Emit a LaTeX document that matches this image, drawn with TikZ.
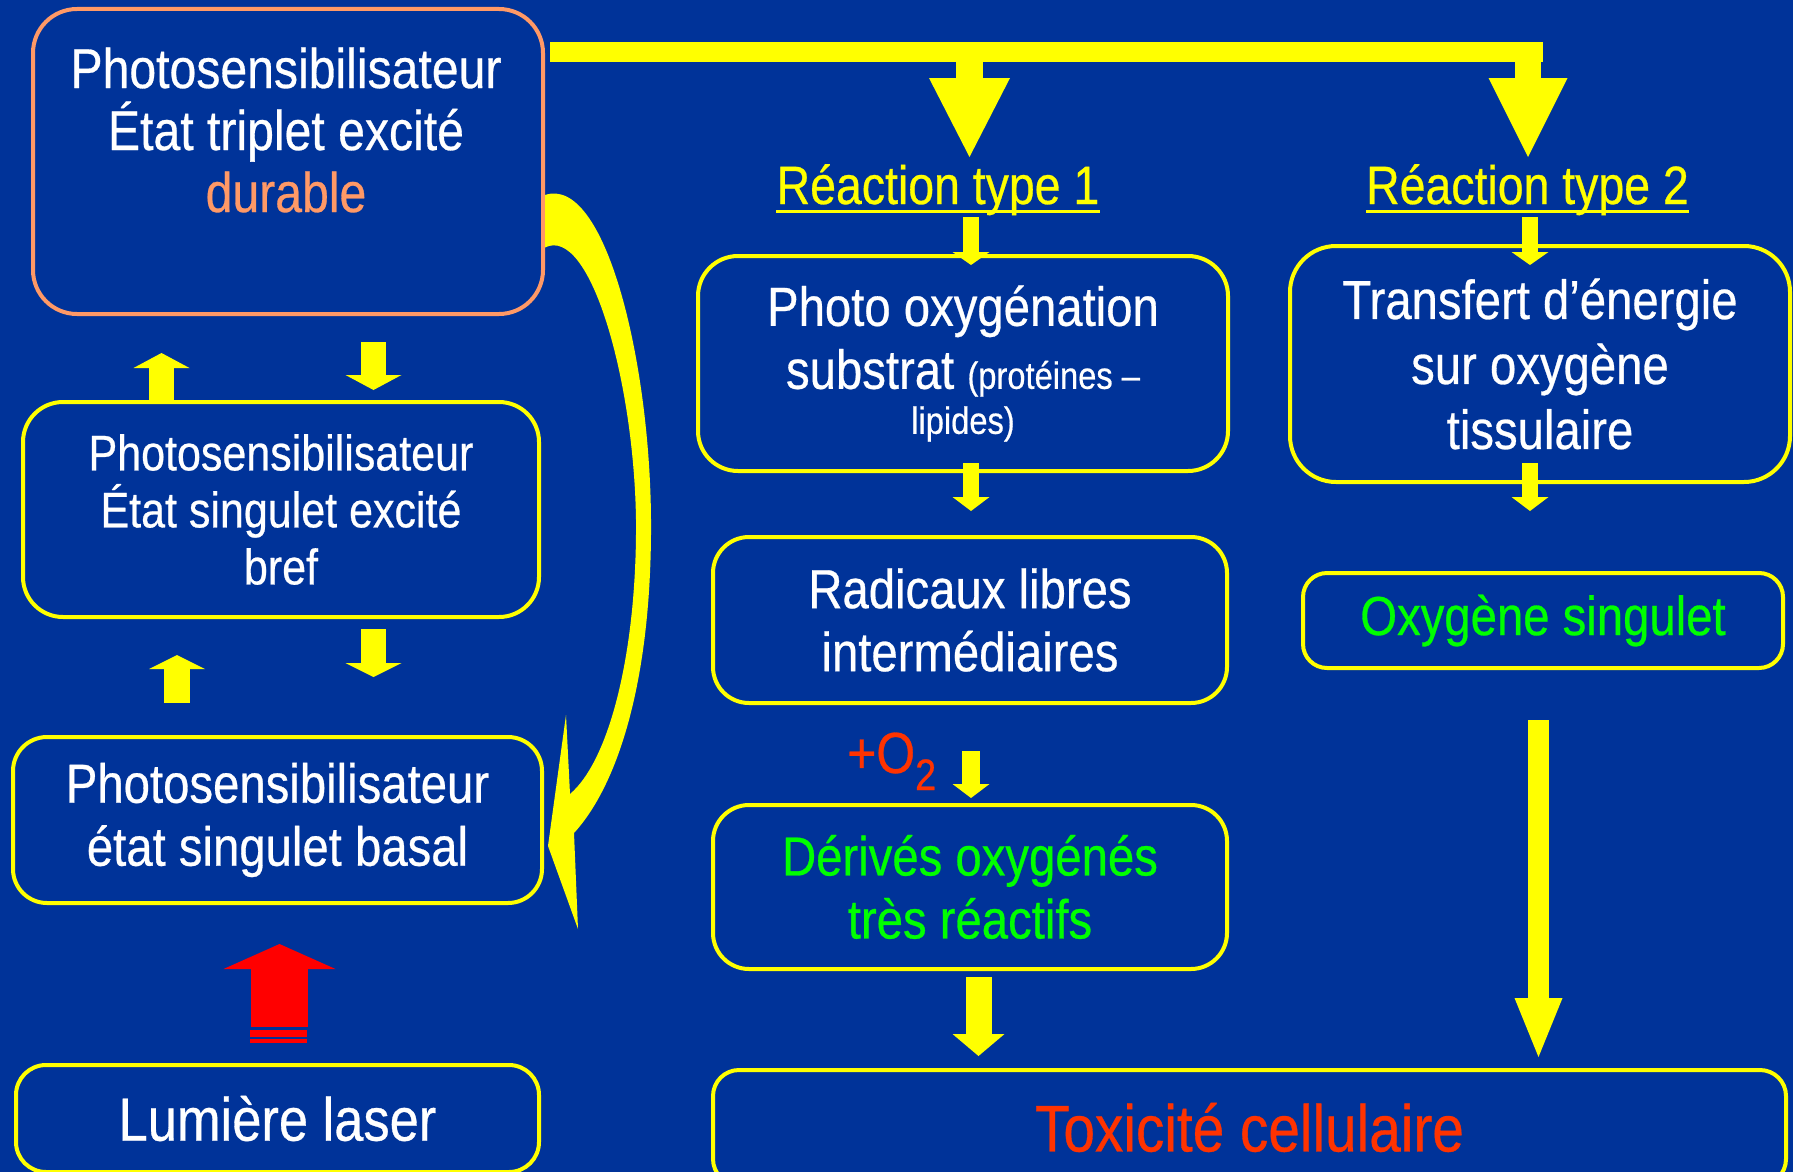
\documentclass[tikz,border=0pt]{standalone}
\usepackage{fontspec}
\setmainfont[FakeStretch=0.86,FakeBold=0.5]{Liberation Sans}
\usetikzlibrary{arrows.meta}
\definecolor{bgblue}{HTML}{003399}
\definecolor{ylw}{HTML}{FFFF00}
\definecolor{salmon}{HTML}{FF9966}
\definecolor{lgreen}{HTML}{00FF00}
\definecolor{toxred}{HTML}{FF3300}
\definecolor{laserred}{HTML}{FF0000}
\tikzset{
  box/.style={draw=ylw, line width=4pt, rounded corners=#1, inner sep=0pt, anchor=north west,
    align=center, text=white, font=\fontsize{55}{63}\selectfont},
  box/.default=36pt,
  title/.style={anchor=base, inner sep=0pt, text=ylw, font=\fontsize{54}{60}\selectfont},
  fat/.style n args={3}{draw=ylw, line width=#1pt, -{Triangle[width=#2pt, length=#3pt, line width=0pt]}},
}
\begin{document}
\begin{tikzpicture}[x=1pt, y=-1pt]
    \useasboundingbox (0,0) rectangle (1793,1172);
    \clip (0,0) rectangle (1793,1172);
    \fill[bgblue] (0,0) rectangle (1793,1172);

    \node[box=44pt, draw=salmon, minimum width=510pt, minimum height=305pt] (ps_trip) at (31,7) {};
    \node[anchor=base, align=center, inner sep=0pt, text=white, font=\fontsize{56}{62}\selectfont]
        (ps_trip_txt) at (286,212) {Photosensibilisateur\\État triplet excité\\\textcolor{salmon}{durable}};
    \node[box=40pt, minimum width=516pt, minimum height=215pt, font=\fontsize{50}{57}\selectfont]
        (ps_sing) at (21,400) {Photosensibilisateur\\État singulet excité\\bref};
    \node[box=34pt, minimum width=529pt, minimum height=166pt] (ps_base) at (11,735) {Photosensibilisateur\\état singulet basal};
    \node[box=30pt, minimum width=523pt, minimum height=107pt, font=\fontsize{61}{70}\selectfont] (laser) at (14,1063) {Lumière laser};

    \node[title] (r_1) at (938,204) {Réaction type 1};
    \node[title] (r_2) at (1527.5,204) {Réaction type 2};
    \draw[ylw, line width=3.5pt] ([yshift=-7.5pt]r_1.base west) -- ([yshift=-7.5pt]r_1.base east);
    \draw[ylw, line width=3.5pt] ([yshift=-7.5pt]r_2.base west) -- ([yshift=-7.5pt]r_2.base east);

    \node[box=40pt, minimum width=530pt, minimum height=215pt] (photo) at (696,254)
        {Photo oxygénation\\substrat {\fontsize{38}{45}\selectfont(protéines –}\\[-18pt]{\fontsize{38}{45}\selectfont lipides)}};
    \node[box, minimum width=514pt, minimum height=166pt] (rad) at (711,535) {Radicaux libres\\intermédiaires};
    \node[anchor=base west, inner sep=0pt, text=toxred, font=\fontsize{58}{60}\selectfont]
        (o_2) at (847,773) {+O\raisebox{-17pt}{\fontsize{44}{44}\selectfont 2}};
    \node[box, minimum width=514pt, minimum height=164pt, text=lgreen] (deriv) at (711,803) {Dérivés oxygénés\\très réactifs};
    \node[box=26pt, minimum width=1073pt, minimum height=115pt, text=toxred, font=\fontsize{66}{70}\selectfont]
        (tox) at (711,1068) {Toxicité cellulaire};

    \node[box=46pt, minimum width=500pt, minimum height=236pt, font=\fontsize{55}{65}\selectfont]
        (transf) at (1288,244) {Transfert d’énergie\\sur oxygène\\tissulaire};
    \node[box=24pt, minimum width=480pt, minimum height=95pt, text=lgreen] (o_sing) at (1301,571) {Oxygène singulet};

    \draw[ylw, line width=20pt] ([xshift=5pt,yshift=-45pt]ps_trip.north east) -- (1543,52);
    \draw[fat={27}{81}{79}] ([xshift=31.5pt,yshift=152pt]r_1.base) -- ++(0,105);
    \draw[fat={26}{79}{79}] ([xshift=0.5pt,yshift=152pt]r_2.base) -- ++(0,105);

    \draw[fat={25}{56}{15}] ([xshift=-119.5pt]ps_sing.north) -- ++(0,-47);
    \draw[fat={25}{56}{15}] ([xshift=85.5pt,yshift=-26pt]ps_trip.south) -- ++(0,48);
    \draw[fat={25}{56}{14}] ([xshift=92.5pt,yshift=-10pt]ps_sing.south) -- ++(0,48);
    \draw[fat={26}{56}{14}] ([xshift=-100.5pt,yshift=32pt]ps_base.north) -- ++(0,-48);

    \draw[fat={57}{112}{25}, draw=laserred] ([xshift=2pt,yshift=36pt]laser.north) -- ++(0,-83);
    \fill[laserred] ([xshift=-27.5pt,yshift=33pt]laser.north) rectangle ++(57,7);
    \fill[laserred] ([xshift=-27.5pt,yshift=24pt]laser.north) rectangle ++(57,4);

    \fill[ylw] ([yshift=-33.5pt]ps_trip.east) .. controls (605,175) and (650,360) .. (651,520)
        .. controls (652,680) and (618,785) .. (574,833) -- (578,929) -- ([xshift=4pt,yshift=-26pt]ps_base.east)
        -- (566,715) -- (570,794) .. controls (610,760) and (637,650) .. (636,520)
        .. controls (634,380) and (590,225) .. ([yshift=-86pt]ps_trip.east) -- cycle;

    \draw[fat={16}{37}{13}] ([xshift=8pt,yshift=37pt]photo.north) -- ++(0,48);
    \draw[fat={16}{37}{14}] ([xshift=8pt,yshift=10pt]photo.south) -- ++(0,48);
    \draw[fat={18}{37}{14}] ([xshift=1pt,yshift=-46pt]rad.south) -- ++(0,47);
    \draw[fat={26}{52}{22}] ([xshift=8.5pt,yshift=-6pt]deriv.south) -- ++(0,79);

    \draw[fat={16}{37}{13}] ([xshift=-10pt,yshift=27pt]transf.north) -- ++(0,48);
    \draw[fat={16}{37}{14}] ([xshift=-10pt,yshift=21pt]transf.south) -- ++(0,48);
    \draw[fat={21}{48}{59}] ([xshift=-4.5pt,yshift=-50pt]o_sing.south) -- ++(0,337);
\end{tikzpicture}
\end{document}
